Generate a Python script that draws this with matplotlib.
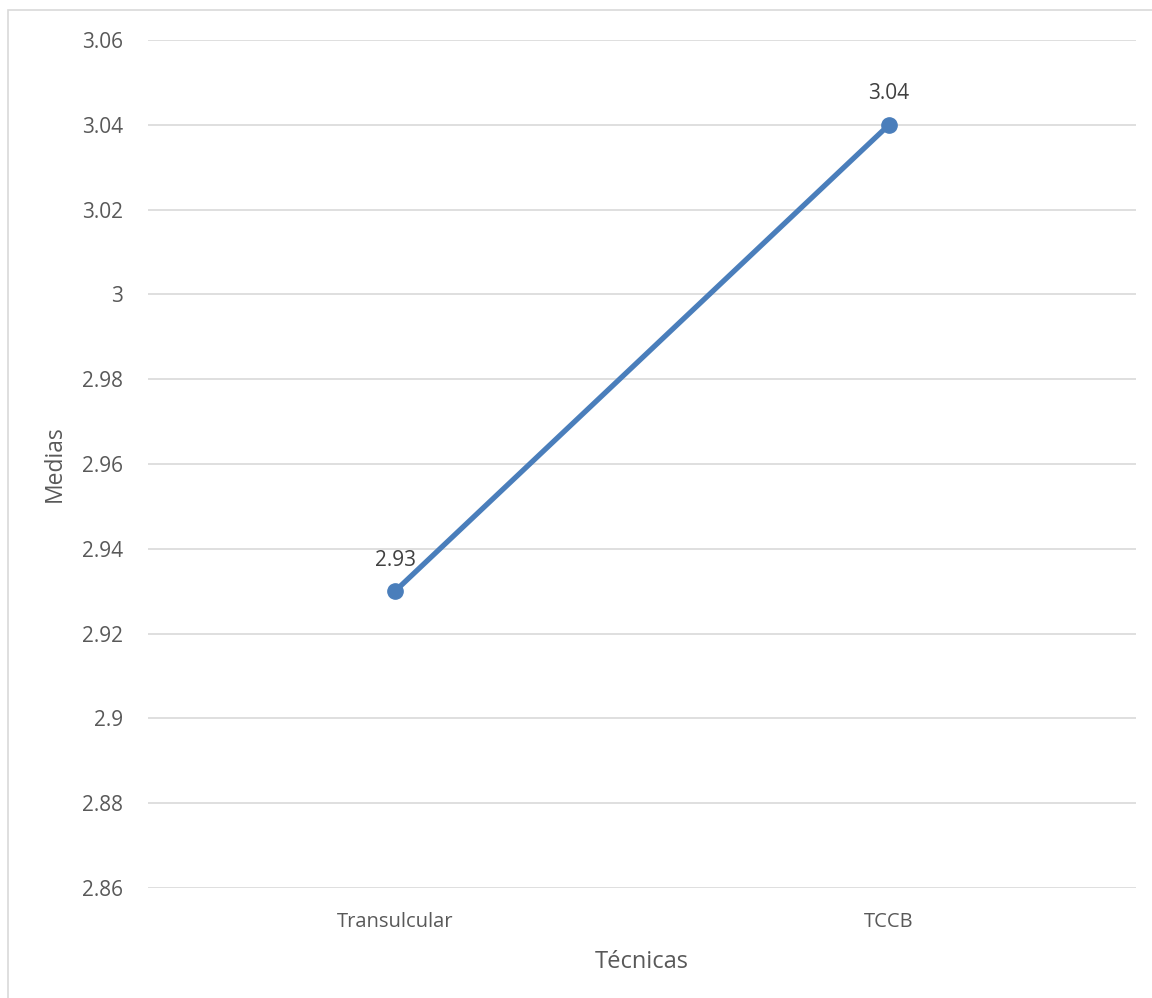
import matplotlib
matplotlib.use("Agg")
import matplotlib.pyplot as plt
from matplotlib.patches import Rectangle

tecnicas = ["Transulcular", "TCCB"]
medias = [2.93, 3.04]
y_ticks = [2.86, 2.88, 2.90, 2.92, 2.94, 2.96, 2.98, 3.00, 3.02, 3.04, 3.06]
y_tick_labels = ["2.86", "2.88", "2.9", "2.92", "2.94", "2.96", "2.98", "3", "3.02", "3.04", "3.06"]

plt.rcParams["font.family"] = ["Open Sans", "DejaVu Sans"]

W, H = 1152, 998
fig = plt.figure(figsize=(W / 100, H / 100), dpi=100)
fig.patch.set_facecolor("white")

# chart frame
fig.add_artist(Rectangle((8 / W, -0.1), 1.2, 1 - 10 / H + 0.1, transform=fig.transFigure,
                         fill=False, edgecolor="#d9d9d9", linewidth=1.2))

ax = fig.add_axes([148 / W, 1 - 888 / H, (1136 - 148) / W, (888 - 40) / H])
x = list(range(len(tecnicas)))
ax.plot(x, medias, color="#4a7ebb", linewidth=3.8, marker="o", markersize=11,
        solid_capstyle="round", zorder=3)
for xi, v in zip(x, medias):
    ax.annotate(f"{v:.2f}", (xi, v), xytext=(0, 18.5), textcoords="offset points",
                ha="center", va="baseline", fontsize=15, color="#404040")

ax.set_xlim(-0.5, len(tecnicas) - 0.5)
ax.set_ylim(2.86, 3.06)
ax.set_yticks(y_ticks)
ax.set_yticklabels(y_tick_labels)
ax.set_xticks(x)
ax.set_xticklabels(tecnicas)
ax.grid(axis="y", color="#d9d9d9", linewidth=1.2)
ax.set_axisbelow(True)
for s in ax.spines.values():
    s.set_visible(False)
ax.tick_params(axis="both", length=0, labelcolor="#595959")
ax.tick_params(axis="y", pad=18, labelsize=15)
ax.tick_params(axis="x", pad=17, labelsize=14.5)
ax.set_xlabel("Técnicas", fontsize=17, color="#595959", labelpad=13)
ax.set_ylabel("Medias", fontsize=16.5, color="#595959", labelpad=11)

fig.savefig("out.png", dpi=100)
